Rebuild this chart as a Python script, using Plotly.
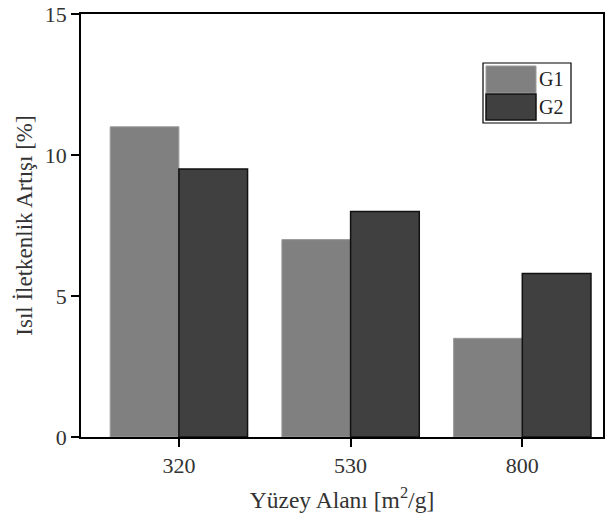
import plotly.graph_objects as go

categories = ["320", "530", "800"]
g1_values = [11.0, 7.0, 3.5]
g2_values = [9.5, 8.0, 5.8]
y_ticks = [0, 5, 10, 15]
series_names = ["G1", "G2"]
series_colors = ["#808080", "#404040"]

FONT = "Liberation Serif, Times New Roman, serif"

fig = go.Figure()
fig.add_trace(go.Bar(x=categories, y=g1_values, name=series_names[0],
                     marker=dict(color=series_colors[0], line=dict(color="#9a9a9a", width=1))))
fig.add_trace(go.Bar(x=categories, y=g2_values, name=series_names[1],
                     marker=dict(color=series_colors[1], line=dict(color="#111111", width=1.5))))

fig.update_layout(
    width=614, height=522,
    margin=dict(l=81, r=11, t=14, b=85, autoexpand=False),
    paper_bgcolor="white", plot_bgcolor="white",
    barmode="group", bargap=0.2, bargroupgap=0,
    showlegend=False,
    font=dict(family=FONT, size=20, color="#333333"),
)
fig.update_xaxes(
    type="category", range=[-0.57, 2.47],
    showline=True, linecolor="black", linewidth=1.5, mirror=True,
    ticks="outside", ticklen=8, tickwidth=1.5, tickcolor="black",
    tickfont=dict(family=FONT, size=22, color="#333333"),
    title=dict(text="Yüzey Alanı [m<sup>2</sup>/g]", font=dict(family=FONT, size=23.5, color="#333333"), standoff=14),
    showgrid=False,
)
fig.update_yaxes(
    range=[0, 15], tickvals=y_ticks,
    showline=True, linecolor="black", linewidth=1.5, mirror=True,
    ticks="outside", ticklen=8, tickwidth=1.5, tickcolor="black",
    tickfont=dict(family=FONT, size=22, color="#333333"),
    title=dict(text="Isıl İletkenlik Artışı [%]", font=dict(family=FONT, size=23, color="#333333"), standoff=6),
    showgrid=False, zeroline=False,
)

# custom legend with large swatches (paper coords)
def px_x(p):
    return (p - 81) / (603 - 81)

def px_y(p):
    return (437 - p) / (437 - 14)

fig.add_shape(type="rect", xref="paper", yref="paper",
              x0=px_x(483), x1=px_x(571), y0=px_y(123), y1=px_y(63),
              line=dict(color="black", width=1.2), fillcolor="white")
fig.add_shape(type="rect", xref="paper", yref="paper",
              x0=px_x(486), x1=px_x(536), y0=px_y(93), y1=px_y(66),
              line=dict(color="#9a9a9a", width=1), fillcolor=series_colors[0])
fig.add_shape(type="rect", xref="paper", yref="paper",
              x0=px_x(486), x1=px_x(536), y0=px_y(120), y1=px_y(94),
              line=dict(color="#111111", width=1.5), fillcolor=series_colors[1])
for i, (name, yc) in enumerate(zip(series_names, [79, 107])):
    fig.add_annotation(xref="paper", yref="paper", x=px_x(537), y=px_y(yc),
                       text=name, showarrow=False, xanchor="left", yanchor="middle",
                       font=dict(family=FONT, size=20, color="#222222"))

fig.write_html("out.html")
